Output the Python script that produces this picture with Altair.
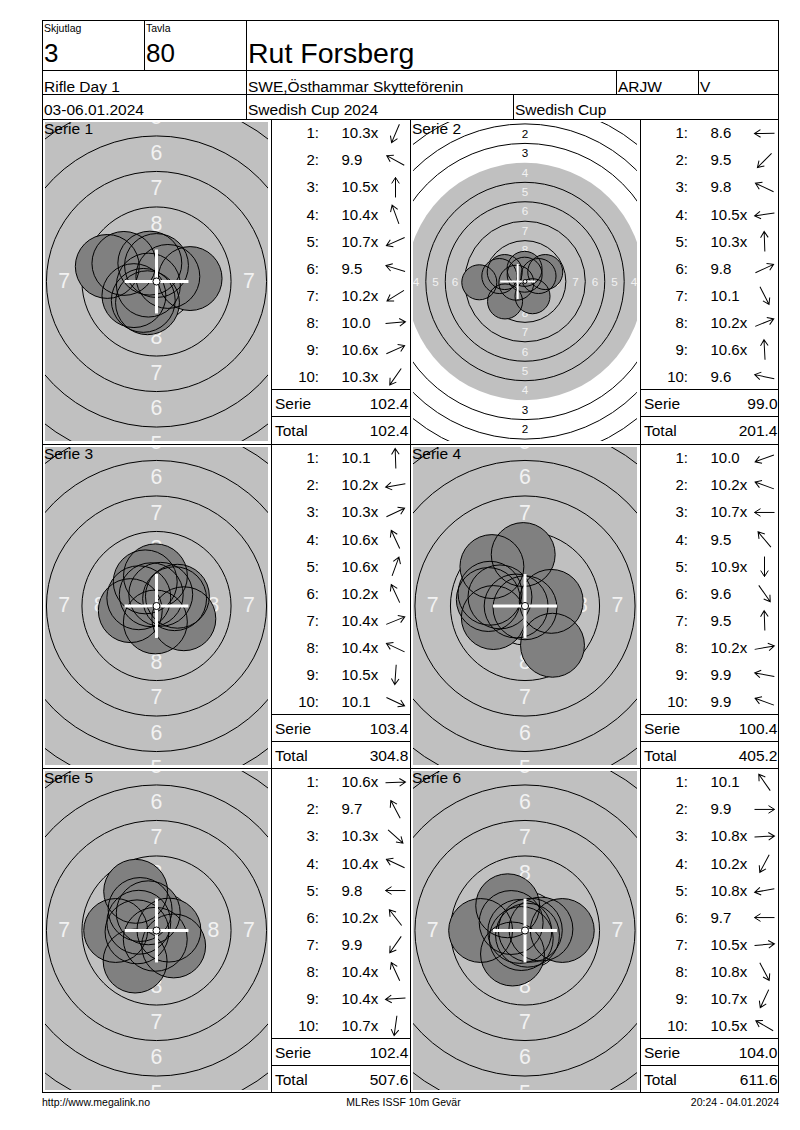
import altair as alt
import pandas as pd

FONT = "Liberation Sans"

# ---------------- data ----------------
skjutlag_label = "Skjutlag"
tavla_label = "Tavla"
skjutlag = "3"
tavla = "80"
shooter = "Rut Forsberg"
event = "Rifle Day 1"
club = "SWE,Östhammar Skytteförenin"
klass = "ARJW"
extra = "V"
dates = "03-06.01.2024"
competition = "Swedish Cup 2024"
cup = "Swedish Cup"
footer_left = "http://www.megalink.no"
footer_mid = "MLRes ISSF 10m Gevär"
footer_right = "20:24 - 04.01.2024"

serie_names = ["Serie 1", "Serie 2", "Serie 3", "Serie 4", "Serie 5", "Serie 6"]

shots_1 = ["10.3x", "9.9", "10.5x", "10.4x", "10.7x", "9.5", "10.2x", "10.0", "10.6x", "10.3x"]
shots_2 = ["8.6", "9.5", "9.8", "10.5x", "10.3x", "9.8", "10.1", "10.2x", "10.6x", "9.6"]
shots_3 = ["10.1", "10.2x", "10.3x", "10.6x", "10.6x", "10.2x", "10.4x", "10.4x", "10.5x", "10.1"]
shots_4 = ["10.0", "10.2x", "10.7x", "9.5", "10.9x", "9.6", "9.5", "10.2x", "9.9", "9.9"]
shots_5 = ["10.6x", "9.7", "10.3x", "10.4x", "9.8", "10.2x", "9.9", "10.4x", "10.4x", "10.7x"]
shots_6 = ["10.1", "9.9", "10.8x", "10.2x", "10.8x", "9.7", "10.5x", "10.8x", "10.7x", "10.5x"]

# direction of each shot from the centre (degrees, counter-clockwise from right), read from the arrows
dirs_1 = [247, 151, 90, 110, 204, 163, 212, 5, 24, 235]
dirs_2 = [181, 225, 155, 188, 92, 25, 297, 22, 93, 168]
dirs_3 = [92, 190, 25, 115, 70, 115, 22, 155, 266, 335]
dirs_4 = [200, 160, 180, 130, 270, 305, 92, 10, 170, 160]
dirs_5 = [2, 118, 318, 155, 180, 128, 235, 115, 184, 262]
dirs_6 = [125, 0, 3, 242, 190, 180, 5, 298, 245, 150]

serie_sum = ["102.4", "99.0", "103.4", "100.4", "102.4", "104.0"]
total_sum = ["102.4", "201.4", "304.8", "405.2", "507.6", "611.6"]

# crosshair position (mm) per series
cross_x = [0.0, -0.94, 0.0, 0.0, 0.0, 0.0]
cross_y = [0.0, 0.0, 0.0, 0.0, 0.0, 0.0]

SHOTS = [shots_1, shots_2, shots_3, shots_4, shots_5, shots_6]
DIRS = [dirs_1, dirs_2, dirs_3, dirs_4, dirs_5, dirs_6]

# 10m air rifle target geometry (mm)
ring_score = [1, 2, 3, 5, 6, 7, 8, 9]
ring_radius = [22.75, 20.25, 17.75, 12.75, 10.25, 7.75, 5.25, 2.75]
label_score = [1, 2, 3, 4, 5, 6, 7, 8, 9]
label_radius = [21.5, 19.0, 16.5, 14.0, 11.5, 9.0, 6.5, 4.0, 1.5]
BLACK_RADIUS = 15.25
PELLET_R = 2.25
TEN_R = 0.25

# ---------------- layout / style ----------------
PPM = [14.2, 7.78, 14.2, 14.2, 14.2, 14.2]   # pixels per mm per panel
TARGET_W = [229, 230]
TABLE_W = 139
ROW_H = [325, 324, 325]
HEADER_H = 99
TOTAL_W = 737
GRAY = "#c0c0c0"
SHOT = "#808080"
LABEL_LIGHT = "#f2f2f2"
ARROW = "M-1,0L1,0M0.4,-0.38L1,0L0.4,0.38"

ONE = pd.DataFrame({"a": [0]})


def bar(x1, x2, y1, y2, color="black"):
    """A filled 1px-style line segment of the form layout."""
    return alt.Chart(ONE).mark_rect(color=color, strokeWidth=0).encode(
        x=alt.value(x1), x2=alt.value(x2), y=alt.value(y1), y2=alt.value(y2))


def borders(W, H, right=False, bottom=False):
    out = [bar(0, W, 0, 1), bar(0, 1, 0, H)]
    if right:
        out.append(bar(W - 1, W, 0, H))
    if bottom:
        out.append(bar(0, W, H - 1, H))
    return out


def target_panel(i, W, H, last_row):
    k = PPM[i]
    hx, hy = W / 2 / k, H / 2 / k
    xs = alt.Scale(domain=[-hx, hx], nice=False, zero=False)
    ys = alt.Scale(domain=[-hy, hy], nice=False, zero=False)

    def ex(f):
        return alt.X(f"{f}:Q", scale=xs, axis=None)

    def ey(f):
        return alt.Y(f"{f}:Q", scale=ys, axis=None)

    origin = pd.DataFrame({"x": [0.0], "y": [0.0]})

    black = alt.Chart(origin).mark_point(
        shape="circle", filled=True, color=GRAY, opacity=1, strokeWidth=0,
        size=(2 * BLACK_RADIUS * k) ** 2, clip=True
    ).encode(x=ex("x"), y=ey("y"))

    rings_df = pd.DataFrame({
        "x": [0.0] * len(ring_radius),
        "y": [0.0] * len(ring_radius),
        "size": [(2 * r * k) ** 2 for r in ring_radius],
    })
    rings = alt.Chart(rings_df).mark_point(
        shape="circle", filled=False, color="black", strokeWidth=1, opacity=1, clip=True
    ).encode(x=ex("x"), y=ey("y"), size=alt.Size("size:Q", scale=None))

    lab_rows = []
    for n, r in zip(label_score, label_radius):
        for dx, dy in [(0, 1), (0, -1), (1, 0), (-1, 0)]:
            lab_rows.append({"x": r * dx, "y": r * dy, "t": str(n),
                             "c": LABEL_LIGHT if n >= 4 else "black"})
    labels = alt.Chart(pd.DataFrame(lab_rows)).mark_text(
        font=FONT, fontSize=1.5 * k, align="center", baseline="middle", clip=True
    ).encode(x=ex("x"), y=ey("y"), text="t:N", color=alt.Color("c:N", scale=None))

    shots_df = pd.DataFrame({
        "score": [float(s.rstrip("x")) for s in SHOTS[i]],
        "angle": DIRS[i],
    })
    base = alt.Chart(shots_df).transform_calculate(
        d="(10.95 - datum.score) * 2.5"
    ).transform_calculate(
        sx="datum.d * cos(datum.angle * PI / 180)",
        sy="datum.d * sin(datum.angle * PI / 180)",
    )
    pellet = (2 * PELLET_R * k) ** 2
    fills = base.mark_point(shape="circle", filled=True, color=SHOT, opacity=1,
                            strokeWidth=0, size=pellet, clip=True
                            ).encode(x=ex("sx"), y=ey("sy"))
    outlines = base.mark_point(shape="circle", filled=False, color="black", opacity=1,
                               strokeWidth=1, size=pellet, clip=True
                               ).encode(x=ex("sx"), y=ey("sy"))

    cx, cy = cross_x[i], cross_y[i]
    cross_df = pd.DataFrame({
        "x": [cx - PELLET_R, cx], "x2": [cx + PELLET_R, cx],
        "y": [cy, cy - PELLET_R], "y2": [cy, cy + PELLET_R],
    })
    cross = alt.Chart(cross_df).mark_rule(color="white", strokeWidth=max(2.0, 0.21 * k), clip=True).encode(
        x=ex("x"), x2="x2:Q", y=ey("y"), y2="y2:Q")

    dot = alt.Chart(origin).mark_point(
        shape="circle", filled=True, fill="white", stroke="black", strokeWidth=1,
        opacity=1, size=(2 * TEN_R * k) ** 2, clip=True
    ).encode(x=ex("x"), y=ey("y"))

    frame = [bar(0, W, 0, 3, "white"), bar(0, W, H - 3, H, "white"),
             bar(0, 3, 0, H, "white"), bar(W - 3, W, 0, H, "white")]

    title = alt.Chart(pd.DataFrame({"t": [serie_names[i]]})).mark_text(
        font=FONT, fontSize=15.5, align="left", baseline="alphabetic", color="black"
    ).encode(x=alt.value(2), y=alt.value(15), text="t:N")

    layers = [black, rings, labels, fills, outlines, cross, dot] + frame + \
        borders(W, H, bottom=last_row) + [title]
    return alt.layer(*layers).properties(width=W, height=H)


def table_panel(i, W, H, last_col, last_row):
    labs = [("\u00a0" + s) if float(s.rstrip("x")) < 10 else s for s in SHOTS[i]]
    df = pd.DataFrame({
        "row": list(range(1, 11)),
        "idx": [f"{n}:" for n in range(1, 11)],
        "lab": labs,
        "angle": DIRS[i],
    })
    ys = alt.Scale(domain=[1, 10], range=[14.4, 257.7], nice=False, zero=False)
    ey = alt.Y("row:Q", scale=ys, axis=None)

    idx = alt.Chart(df).mark_text(font=FONT, fontSize=15, align="right", baseline="middle",
                                  color="black").encode(x=alt.value(48), y=ey, text="idx:N")
    sc = alt.Chart(df).mark_text(font=FONT, fontSize=15, align="left", baseline="middle",
                                 color="black").encode(x=alt.value(70.5), y=ey, text="lab:N")
    arr = alt.Chart(df).transform_calculate(rot="(360 - datum.angle) % 360").mark_point(
        shape=ARROW, size=400, filled=False, color="black", strokeWidth=1, opacity=1
    ).encode(x=alt.value(124.5), y=ey, angle=alt.Angle("rot:Q", scale=None))

    seps = [bar(0, W, 270, 271), bar(0, W, 297, 298)]

    summ = pd.DataFrame({"k": ["Serie", "Total"], "v": [serie_sum[i], total_sum[i]]})
    s_lab = alt.Chart(summ).transform_filter("datum.k == 'Serie'")
    t_lab = alt.Chart(summ).transform_filter("datum.k == 'Total'")
    tx = dict(font=FONT, fontSize=15.5, baseline="middle", color="black")
    s1 = s_lab.mark_text(align="left", **tx).encode(x=alt.value(4), y=alt.value(285.4), text="k:N")
    s2 = s_lab.mark_text(align="right", **tx).encode(x=alt.value(W - 1.5), y=alt.value(285.4), text="v:N")
    t1 = t_lab.mark_text(align="left", **tx).encode(x=alt.value(4), y=alt.value(311.9), text="k:N")
    t2 = t_lab.mark_text(align="right", **tx).encode(x=alt.value(W - 1.5), y=alt.value(311.9), text="v:N")

    layers = [idx, sc, arr] + seps + [s1, s2, t1, t2] + borders(W, H, right=last_col, bottom=last_row)
    return alt.layer(*layers).properties(width=W, height=H)


# ---------------- header ----------------
header_texts = pd.DataFrame([
    {"t": skjutlag_label, "x": 2, "y": 12, "fs": 10.5},
    {"t": tavla_label, "x": 104, "y": 12, "fs": 10.5},
    {"t": skjutlag, "x": 2, "y": 41.5, "fs": 26},
    {"t": tavla, "x": 104, "y": 41.5, "fs": 26},
    {"t": shooter, "x": 206, "y": 43, "fs": 28.5},
    {"t": event, "x": 2, "y": 72, "fs": 15.5},
    {"t": club, "x": 206, "y": 72, "fs": 15.5},
    {"t": klass, "x": 576, "y": 72, "fs": 15.5},
    {"t": extra, "x": 658, "y": 72, "fs": 15.5},
    {"t": dates, "x": 2, "y": 94.5, "fs": 15.5},
    {"t": competition, "x": 206, "y": 94.5, "fs": 15.5},
    {"t": cup, "x": 473, "y": 94.5, "fs": 15.5},
])
h_texts = alt.Chart(header_texts).mark_text(font=FONT, align="left", baseline="alphabetic",
                                            color="black").encode(
    x=alt.X("x:Q", scale=None, axis=None), y=alt.Y("y:Q", scale=None, axis=None),
    text="t:N", size=alt.Size("fs:Q", scale=None))
header_lines = [
    bar(0, TOTAL_W, 0, 1), bar(0, 1, 0, HEADER_H), bar(TOTAL_W - 1, TOTAL_W, 0, HEADER_H),
    bar(0, TOTAL_W, 50, 51), bar(0, TOTAL_W, 74, 75),
    bar(102, 103, 0, 50), bar(204, 205, 0, HEADER_H),
    bar(574, 575, 50, 75), bar(656, 657, 50, 75), bar(471, 472, 74, HEADER_H),
]
header = alt.layer(*header_lines, h_texts).properties(width=TOTAL_W, height=HEADER_H)

# ---------------- footer ----------------
foot = pd.DataFrame({"l": [footer_left], "m": [footer_mid], "r": [footer_right]})
ft = dict(font=FONT, fontSize=10.5, baseline="alphabetic", color="black")
f1 = alt.Chart(foot).mark_text(align="left", **ft).encode(x=alt.value(0), y=alt.value(12.5), text="l:N")
f2 = alt.Chart(foot).mark_text(align="center", **ft).encode(x=alt.value(361.5), y=alt.value(12.5), text="m:N")
f3 = alt.Chart(foot).mark_text(align="right", **ft).encode(x=alt.value(TOTAL_W), y=alt.value(12.5), text="r:N")
footer = alt.layer(f1, f2, f3).properties(width=TOTAL_W, height=20)

# ---------------- assemble ----------------
rows = []
for r in range(3):
    a, b = 2 * r, 2 * r + 1
    last = r == 2
    rows.append(alt.hconcat(
        target_panel(a, TARGET_W[0], ROW_H[r], last),
        table_panel(a, TABLE_W, ROW_H[r], False, last),
        target_panel(b, TARGET_W[1], ROW_H[r], last),
        table_panel(b, TABLE_W, ROW_H[r], True, last),
        spacing=0, bounds="flush"))

chart = alt.vconcat(header, *rows, footer, spacing=0).properties(
    padding={"left": 34, "top": 12, "right": 4, "bottom": 4}
).configure_view(strokeWidth=0, strokeOpacity=0)

chart.save("out.html", embed_options={"renderer": "svg", "actions": False})
